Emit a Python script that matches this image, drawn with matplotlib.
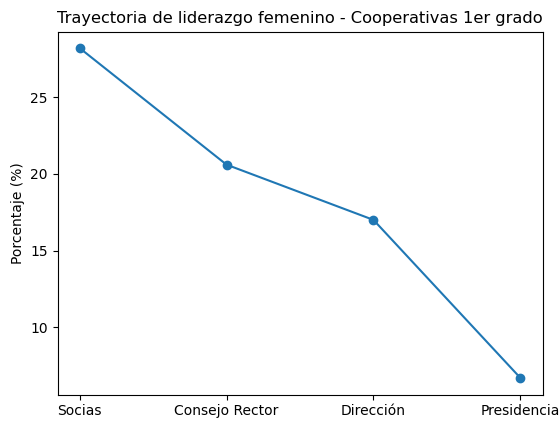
import matplotlib
matplotlib.use("Agg")
import matplotlib.pyplot as plt

categories = ["Socias", "Consejo Rector", "Dirección", "Presidencia"]
values = [28.2, 20.6, 17.0, 6.7]

fig = plt.figure(figsize=(5.59, 4.21), dpi=100)
ax = fig.add_axes([57.5/559, 1-394.5/421, (542.5-57.5)/559, (394.5-31.5)/421])
ax.plot(categories, values, marker="o")
ax.set_title("Trayectoria de liderazgo femenino - Cooperativas 1er grado", fontsize=11.7)
ax.set_ylabel("Porcentaje (%)")
fig.savefig("out.png", dpi=100)
